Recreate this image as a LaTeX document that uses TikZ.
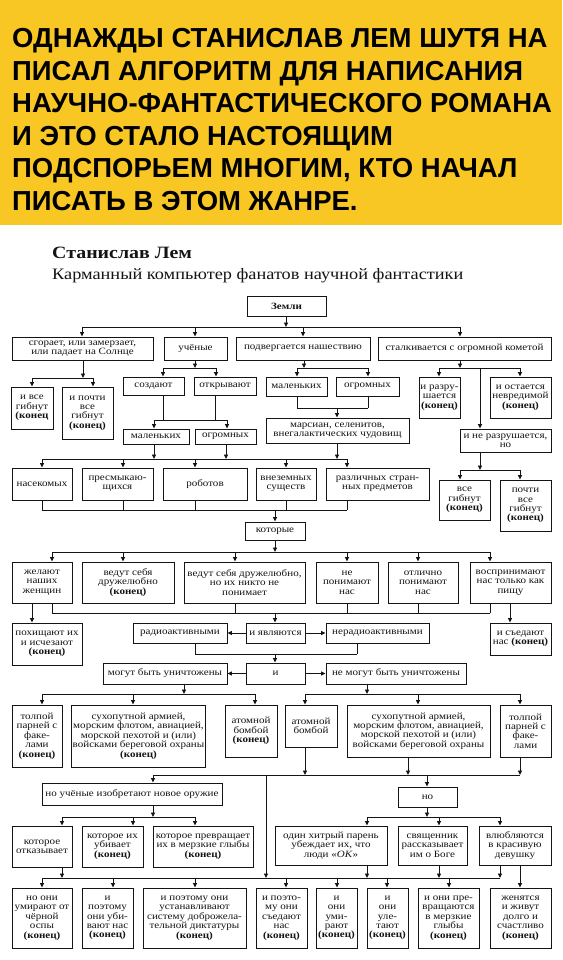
\documentclass[tikz,border=0pt]{standalone}
\usepackage{fontspec}
\setmainfont{Liberation Serif}
\newfontfamily\lemfont[FakeStretch=1.15]{Liberation Serif}
\newfontfamily\hdrfont{Liberation Sans}
\usetikzlibrary{arrows.meta}
\definecolor{hdryellow}{RGB}{249,199,35}
\definecolor{inkc}{RGB}{20,20,20}
\tikzset{
  lbox/.style={draw=inkc, line width=0.9pt, inner sep=1pt, align=center, text=inkc,
    font={\lemfont\fontsize{9.6}{9.4}\selectfont}},
  arr/.style={draw=inkc, line width=0.9pt, -{Triangle[length=4.5pt,width=4pt]}},
  ln/.style={draw=inkc, line width=0.9pt},
  htext/.style={anchor=base west, inner sep=0pt, font={\hdrfont\bfseries\fontsize{27.5}{32.5}\selectfont}}
}
\newcommand\lembox[6]{\node[lbox, minimum width={(#4-#2)*1pt}, minimum height={(#5-#3)*1pt}] (#1) at ({(#2+#4)/2},{(#3+#5)/2}) {#6};}
\newcommand\kon{\textbf{(конец)}}
\newcommand\dn[3]{\draw[arr] (#1,#2) -- (#1,0 |- #3.north);}
\newcommand\tobus[3]{\draw[arr] (#1,0 |- #2.south) -- (#1,#3);}
\newcommand\tobusl[3]{\draw[ln] (#1,0 |- #2.south) -- (#1,#3);}
\newcommand\busline[3]{\draw[ln] (#2,#1) -- (#3,#1);}
\newcommand\conn[3]{\draw[arr] (#1,0 |- #2.south) -- (#1,0 |- #3.north);}
\begin{document}
\begin{tikzpicture}[x=1pt,y=-1pt]
\useasboundingbox (0,0) rectangle (562,960);
\fill[white] (0,0) rectangle (562,960);
\fill[hdryellow] (0,0) rectangle (562,225);
\node[htext] (h1) at (12,48) {ОДНАЖДЫ СТАНИСЛАВ ЛЕМ ШУТЯ НА};
\node[htext] (h2) at (12,80.5) {ПИСАЛ АЛГОРИТМ ДЛЯ НАПИСАНИЯ};
\node[htext] (h3) at (12,113) {НАУЧНО-ФАНТАСТИЧЕСКОГО РОМАНА};
\node[htext] (h4) at (12,145.5) {И ЭТО СТАЛО НАСТОЯЩИМ};
\node[htext] (h5) at (12,178) {ПОДСПОРЬЕМ МНОГИМ, КТО НАЧАЛ};
\node[htext] (h6) at (12,210.5) {ПИСАТЬ В ЭТОМ ЖАНРЕ.};

\node[anchor=base west, inner sep=0pt, text=inkc, font={\lemfont\bfseries\fontsize{17.3}{19}\selectfont}] (t1) at (52,258) {Станислав Лем};
\node[anchor=base west, inner sep=0pt, text=inkc, font={\lemfont\fontsize{15.9}{18}\selectfont}] (t2) at (52,279) {Карманный компьютер фанатов научной фантастики};

% boxes
\lembox{zemli}{247}{296}{326}{316}{\textbf{Земли}}
\lembox{sgor}{12}{337}{153}{360}{сгорает, или замерзает,\\ или падает на Солнце}
\lembox{uch}{164}{337}{227}{360}{учёные}
\lembox{podv}{236}{337}{370}{360}{подвергается нашествию}
\lembox{stalk}{378}{337}{551}{360}{сталкивается с огромной кометой}

\lembox{vseA}{11}{387}{53}{429}{и все\\ гибнут\\ \textbf{(конец}}
\lembox{pochtiA}{62}{387}{113}{439}{и почти\\ все\\ гибнут\\ \kon}
\lembox{sozd}{123}{377}{184}{395}{создают}
\lembox{otkr}{194}{377}{256}{395}{открывают}
\lembox{malA}{123}{429}{189}{444}{маленьких}
\lembox{ogrA}{195}{429}{256}{444}{огромных}
\lembox{malB}{266}{377}{327}{396}{маленьких}
\lembox{ogrB}{336}{377}{399}{396}{огромных}
\lembox{mars}{266}{418}{409}{443}{марсиан, селенитов,\\ внегалактических чудовищ}
\lembox{razr}{419}{377}{460}{418}{и разру-\\ шается\\ \kon}
\lembox{ost}{490}{377}{551}{418}{и остается\\ невредимой\\ \kon}
\lembox{nerazr}{460}{429}{551}{452}{и не разрушается,\\ но}
\lembox{vseB}{439}{480}{490}{520}{все\\ гибнут\\ \kon}
\lembox{pochtiB}{500}{480}{551}{531}{почти\\ все\\ гибнут\\ \kon}

\lembox{nasek}{12}{468}{72}{500}{насекомых}
\lembox{presm}{82}{468}{153}{500}{пресмыкаю-\\ щихся}
\lembox{robot}{163}{468}{247}{500}{роботов}
\lembox{vnez}{256}{468}{316}{500}{внеземных\\ существ}
\lembox{razl}{326}{468}{429}{500}{различных стран-\\ ных предметов}
\lembox{kotor}{245}{522}{305}{540}{которые}

\lembox{zhel}{12}{562}{72}{603}{желают\\ наших\\ женщин}
\lembox{drA}{82}{562}{174}{603}{ведут себя\\ дружелюбно\\ \kon}
\lembox{drB}{184}{562}{305}{603}{ведут себя дружелюбно,\\ но их никто не\\ понимает}
\lembox{nepon}{316}{562}{378}{603}{не\\ понимают\\ нас}
\lembox{otl}{388}{562}{458}{603}{отлично\\ понимают\\ нас}
\lembox{vospr}{470}{562}{551}{603}{воспринимают\\ нас только как\\ пищу}

\lembox{pohisch}{12}{623}{82}{665}{похищают их\\ и исчезают\\ \kon}
\lembox{radio}{133}{623}{227}{643}{радиоактивными}
\lembox{yavl}{246}{623}{305}{643}{и являются}
\lembox{nerad}{326}{623}{429}{643}{нерадиоактивными}
\lembox{sjedA}{490}{623}{551}{655}{и съедают\\ нас \kon}
\lembox{iA}{246}{663}{305}{684}{и}
\lembox{mogut}{103}{663}{227}{684}{могут быть уничтожены}
\lembox{nemogut}{326}{663}{466}{684}{не могут быть уничтожены}

\lembox{tolpA}{12}{705}{62}{767}{толпой\\ парней с\\ факе-\\ лами\\ \kon}
\lembox{suhA}{72}{705}{205}{767}{сухопутной армией,\\ морским флотом, авиацией,\\ морской пехотой и (или)\\ войсками береговой охраны\\ \kon}
\lembox{atomA}{225}{705}{277}{757}{атомной\\ бомбой\\ \kon}
\lembox{atomB}{285}{705}{337}{747}{атомной\\ бомбой}
\lembox{suhB}{347}{705}{490}{757}{сухопутной армией,\\ морским флотом, авиацией,\\ морской пехотой и (или)\\ войсками береговой охраны}
\lembox{tolpB}{500}{705}{551}{757}{толпой\\ парней с\\ факе-\\ лами}

\lembox{nouch}{42}{783}{222}{805}{но учёные изобретают новое оружие}
\lembox{no}{398}{787}{457}{807}{но}
\lembox{otk}{12}{826}{72}{867}{которое\\ отказывает}
\lembox{ub}{82}{826}{143}{867}{которое их\\ убивает\\ \kon}
\lembox{prevr}{153}{826}{253}{867}{которое превращает\\ их в мерзкие глыбы\\ \kon}
\lembox{hitr}{275}{826}{387}{865}{один хитрый парень\\ убеждает их, что\\ люди «\textit{ОК}»}
\lembox{svyash}{398}{826}{467}{865}{священник\\ рассказывает\\ им о Боге}
\lembox{vlyub}{479}{826}{551}{865}{влюбляются\\ в красивую\\ девушку}

\lembox{umir}{12}{888}{72}{948}{но они\\ умирают от\\ чёрной\\ оспы\\ \kon}
\lembox{ubiv}{82}{888}{133}{948}{и\\ поэтому\\ они уби-\\ вают нас\\ \kon}
\lembox{dikt}{143}{888}{246}{948}{и поэтому они\\ устанавливают\\ систему доброжела-\\ тельной диктатуры\\ \kon}
\lembox{sjedB}{256}{888}{307}{948}{и поэто-\\ му они\\ съедают\\ нас\\ \kon}
\lembox{umr}{316}{888}{357}{948}{и\\ они\\ уми-\\ рают\\ \kon}
\lembox{ulet}{367}{888}{408}{948}{и\\ они\\ уле-\\ тают\\ \kon}
\lembox{glyb}{418}{888}{479}{948}{и они пре-\\ вращаются\\ в мерзкие\\ глыбы\\ \kon}
\lembox{zhen}{490}{888}{551}{948}{женятся\\ и живут\\ долго и\\ счастливо\\ \kon}

% connectors
\tobus{286}{zemli}{327} \busline{327}{82}{460}
\dn{82}{327}{sgor} \dn{195}{327}{uch} \dn{303}{327}{podv} \dn{460}{327}{stalk}

\tobus{83}{sgor}{378} \busline{378}{32}{93} \dn{32}{378}{vseA} \dn{93}{378}{pochtiA}

\tobus{195}{uch}{368} \busline{368}{163}{216} \dn{163}{368}{sozd} \dn{216}{368}{otkr}
\tobusl{163}{sozd}{420} \tobusl{215}{otkr}{420} \busline{420}{154}{227}
\dn{154}{420}{malA} \dn{227}{420}{ogrA}

\tobus{304}{podv}{368} \busline{368}{297}{368} \dn{297}{368}{malB} \dn{368}{368}{ogrB}
\tobusl{297}{malB}{408} \tobusl{368}{ogrB}{408} \busline{408}{297}{368} \dn{337}{408}{mars}

\tobus{154}{malA}{459} \tobus{226}{ogrA}{459} \tobus{337}{mars}{459} \busline{459}{42}{347}
\dn{42}{459}{nasek} \dn{123}{459}{presm} \dn{195}{459}{robot} \dn{286}{459}{vnez} \dn{347}{459}{razl}

\tobusl{42}{nasek}{510} \tobusl{123}{presm}{510} \tobusl{195}{robot}{510} \tobusl{286}{vnez}{510} \tobusl{347}{razl}{510}
\busline{510}{42}{347} \dn{275}{510}{kotor}

\tobus{460}{stalk}{368} \busline{368}{439}{520} \dn{439}{368}{razr} \dn{520}{368}{ost} \dn{480}{368}{nerazr}
\tobus{480}{nerazr}{470} \busline{470}{460}{520} \dn{460}{470}{vseB} \dn{520}{470}{pochtiB}

\tobus{275}{kotor}{552} \busline{552}{52}{490}
\dn{52}{552}{zhel} \dn{123}{552}{drA} \dn{235}{552}{drB} \dn{347}{552}{nepon} \dn{418}{552}{otl} \dn{490}{552}{vospr}

\tobusl{52}{zhel}{613} \tobusl{235}{drB}{613} \tobusl{347}{nepon}{613} \tobusl{418}{otl}{613} \tobusl{490}{vospr}{613}
\busline{613}{52}{490} \dn{275}{613}{yavl}
\conn{32}{zhel}{pohisch} \conn{510}{vospr}{sjedA}
\draw[arr] (yavl.west) -- (radio.east);
\draw[arr] (yavl.east) -- (nerad.west);

\tobusl{195}{radio}{654} \tobusl{357}{nerad}{654} \busline{654}{195}{357} \dn{275}{654}{iA}
\draw[arr] (iA.west) -- (mogut.east);
\draw[arr] (iA.east) -- (nemogut.west);

\tobus{184}{mogut}{694} \busline{694}{42}{255}
\dn{42}{694}{tolpA} \dn{133}{694}{suhA} \dn{255}{694}{atomA}
\tobus{367}{nemogut}{694} \busline{694}{305}{520}
\dn{305}{694}{atomB} \dn{418}{694}{suhB} \dn{520}{694}{tolpB}

\tobus{305}{atomB}{775} \tobus{408}{suhB}{775} \tobus{520}{tolpB}{775} \busline{775}{153}{520}
\dn{153}{775}{nouch} \dn{427}{775}{no}
\coordinate (longtop) at (266,775);
\coordinate (longbot) at (266,878);
\draw[arr] (longtop) -- (longbot);

\tobus{153}{nouch}{817} \busline{817}{62}{195}
\dn{62}{817}{otk} \dn{133}{817}{ub} \dn{195}{817}{prevr}
\tobus{427}{no}{817} \busline{817}{367}{500}
\dn{367}{817}{hitr} \dn{439}{817}{svyash} \dn{500}{817}{vlyub}

\tobus{62}{otk}{878} \tobus{367}{hitr}{878} \tobus{439}{svyash}{878} \tobus{500}{vlyub}{878}
\busline{878}{42}{500}
\dn{42}{878}{umir} \dn{113}{878}{ubiv} \dn{195}{878}{dikt} \dn{286}{878}{sjedB}
\dn{337}{878}{umr} \dn{387}{878}{ulet} \dn{449}{878}{glyb}
\conn{520}{vlyub}{zhen}
\end{tikzpicture}
\end{document}
